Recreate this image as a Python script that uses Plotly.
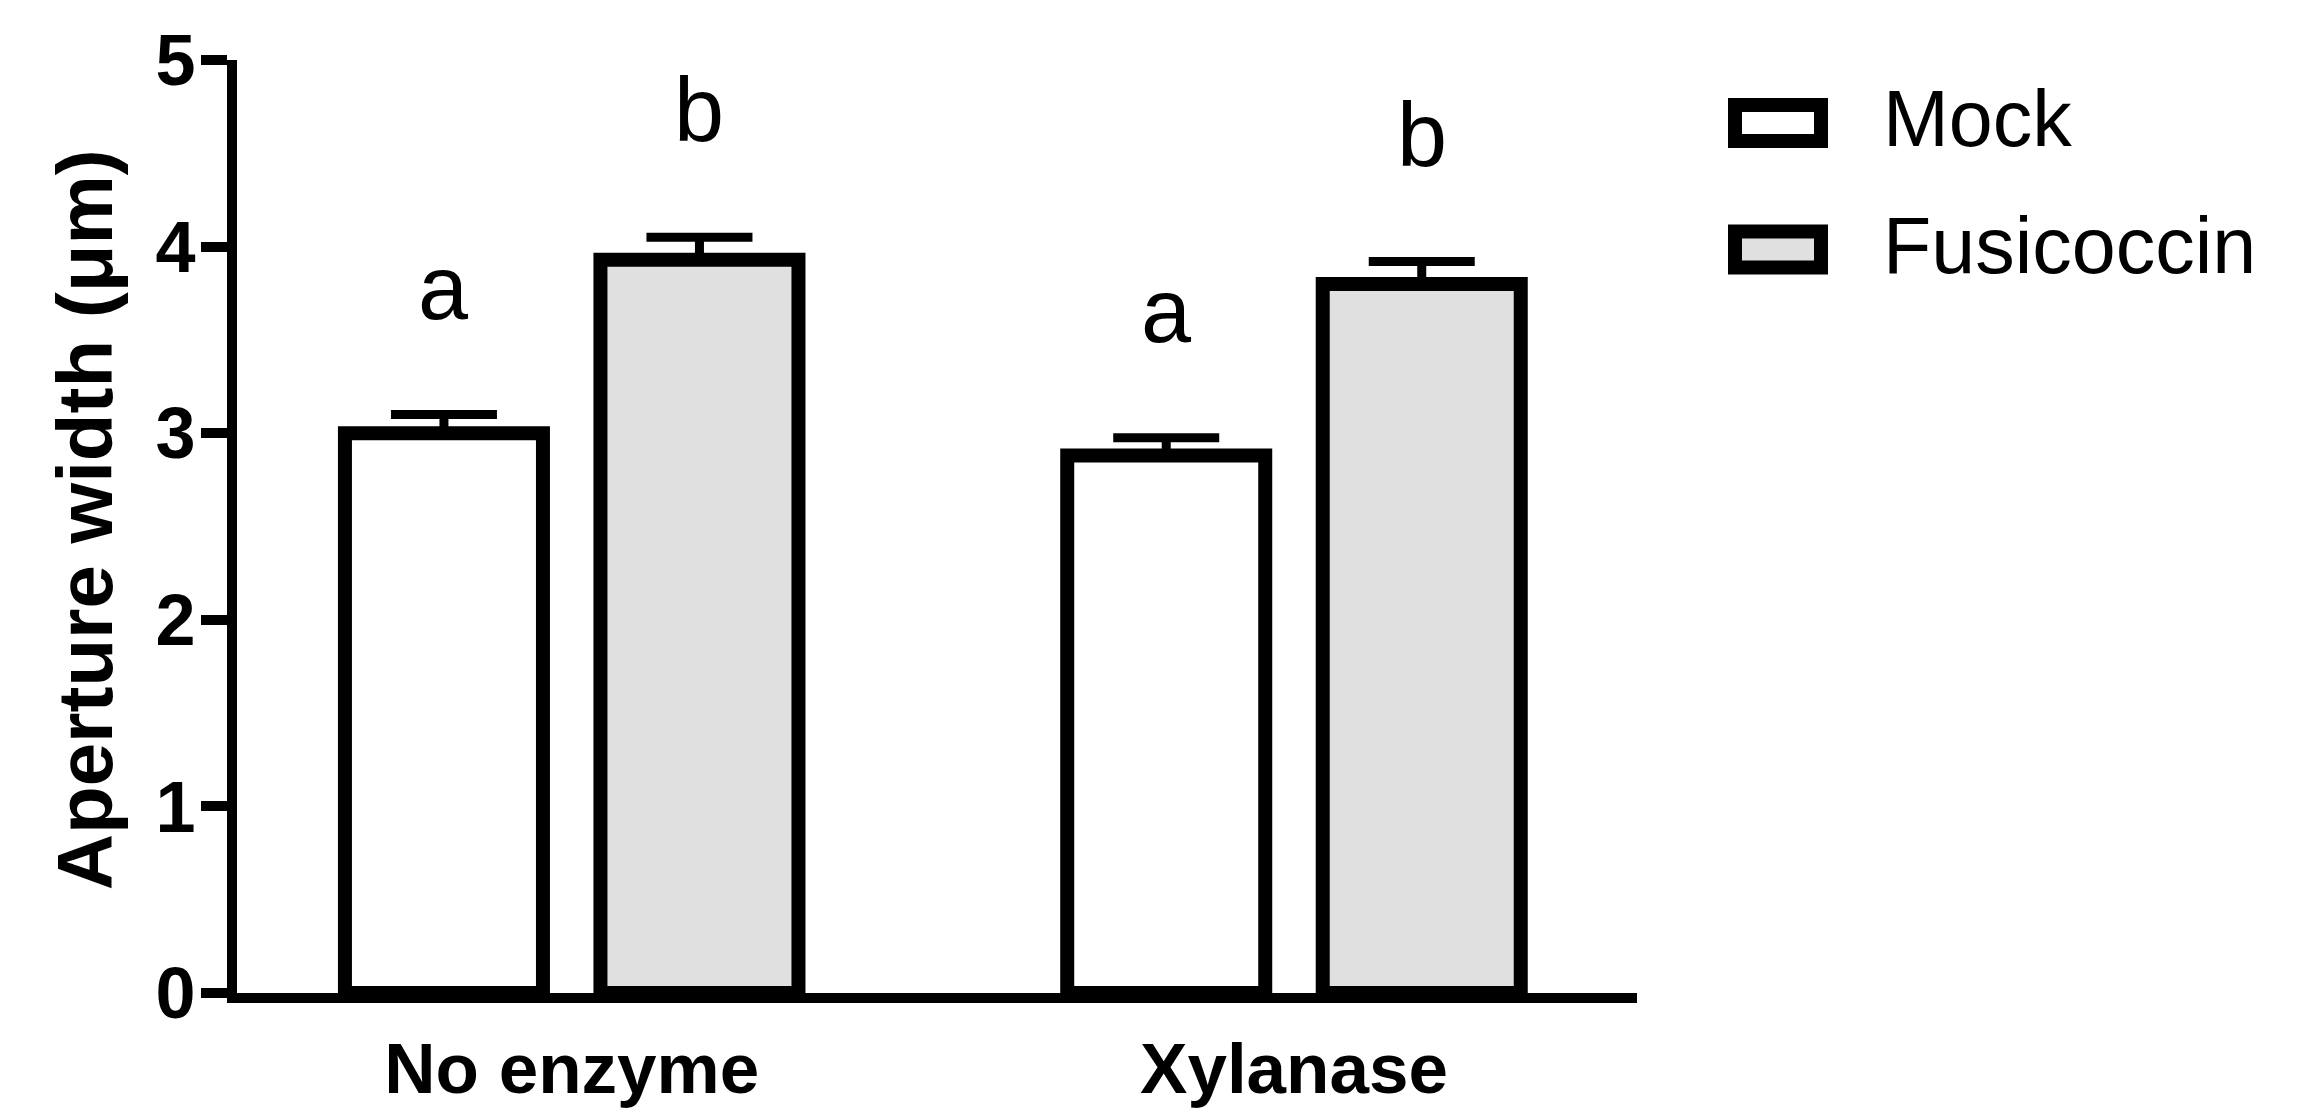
import plotly.graph_objects as go

# ---- data ----
categories = ["No enzyme", "Xylanase"]
series_names = ["Mock", "Fusicoccin"]
mock_vals = [3.00, 2.88]
mock_sem = [0.10, 0.095]
fusi_vals = [3.93, 3.80]
fusi_sem = [0.12, 0.12]
mock_letters = ["a", "a"]
fusi_letters = ["b", "b"]
y_ticks = [0, 1, 2, 3, 4, 5]

# ---- layout geometry (page pixels; the html body adds an 8px margin) ----
OFF = 8
PAGE_W, PAGE_H = 2323, 1116
W, H = PAGE_W - 2 * OFF, PAGE_H - 2 * OFF
plot_left, plot_right, plot_top, plot_bottom = 237, 1637, 59.5, 993
L = plot_left - OFF
T = plot_top - OFF
R = W - (plot_right - OFF)
B = H - (plot_bottom - OFF)
PW, PH = W - L - R, H - T - B

FONT = "Arial, Liberation Sans, Helvetica, sans-serif"
fills = ["#ffffff", "#e0e0e0"]
BARGAP = 0.2925
BARGROUPGAP = 0.225
OFFSET = (1 - BARGAP) / 4


def px2paper_x(px):
    return (px - OFF - L) / PW


def px2paper_y(py):
    return (H - B - (py - OFF)) / PH


fig = go.Figure()
for name, vals, errs, fill in [
    (series_names[0], mock_vals, mock_sem, fills[0]),
    (series_names[1], fusi_vals, fusi_sem, fills[1]),
]:
    fig.add_trace(go.Bar(
        x=categories, y=vals, name=name, showlegend=False,
        marker=dict(color=fill, line=dict(color="black", width=14)),
        error_y=dict(type="data", symmetric=False, array=errs,
                     arrayminus=[0] * len(errs), color="black",
                     thickness=9, width=53),
    ))

# significance letters
annotations = []
for i in range(len(categories)):
    for sign, vals, errs, letters in [
        (-1, mock_vals, mock_sem, mock_letters),
        (1, fusi_vals, fusi_sem, fusi_letters),
    ]:
        annotations.append(dict(
            x=i + sign * OFFSET, y=vals[i] + errs[i], xref="x", yref="y",
            text=letters[i], showarrow=False, yanchor="bottom", yshift=75,
            font=dict(family=FONT, size=90, color="black"),
        ))

# y-axis title
annotations.append(dict(
    x=px2paper_x(85), y=px2paper_y(520), xref="paper", yref="paper",
    text="<b>Aperture width (μm)</b>", textangle=-90, showarrow=False,
    xanchor="center", yanchor="middle",
    font=dict(family=FONT, size=78, color="black"),
))

# custom legend
shapes = []
legend_rows = [(122.5, series_names[0], fills[0]), (249, series_names[1], fills[1])]
for cy, name, fill in legend_rows:
    shapes.append(dict(
        type="rect", xref="paper", yref="paper",
        x0=px2paper_x(1735), x1=px2paper_x(1821),
        y0=px2paper_y(cy - 18), y1=px2paper_y(cy + 18),
        line=dict(color="black", width=14), fillcolor=fill,
    ))
    annotations.append(dict(
        x=px2paper_x(1881), y=px2paper_y(cy - 4), xref="paper", yref="paper",
        text=name, showarrow=False, xanchor="left", yanchor="middle",
        font=dict(family=FONT, size=79, color="black"),
    ))

fig.update_layout(
    width=W, height=H,
    margin=dict(l=L, r=R, t=T, b=B, pad=0, autoexpand=False),
    paper_bgcolor="white", plot_bgcolor="white",
    barmode="group", bargap=BARGAP, bargroupgap=BARGROUPGAP,
    annotations=annotations, shapes=shapes,
    font=dict(family=FONT, color="black"),
)
fig.update_xaxes(
    type="category", range=[-0.4634, 1.4749], automargin=False,
    showline=True, linecolor="black", linewidth=10,
    ticks="", showgrid=False, zeroline=False,
    tickfont=dict(family=FONT, size=71, color="black"),
    ticktext=[f"<b>{c}</b>" for c in categories], tickvals=categories,
    ticklabelstandoff=5,
)
fig.update_yaxes(
    range=[0, 5], tickvals=y_ticks, automargin=False,
    ticktext=[f"<b>{v}</b>" for v in y_ticks],
    showline=True, linecolor="black", linewidth=10,
    ticks="outside", ticklen=26, tickwidth=10, tickcolor="black",
    showgrid=False, zeroline=False,
    tickfont=dict(family=FONT, size=72, color="black"),
    ticklabelstandoff=-9,
)

fig.write_html("out.html")
